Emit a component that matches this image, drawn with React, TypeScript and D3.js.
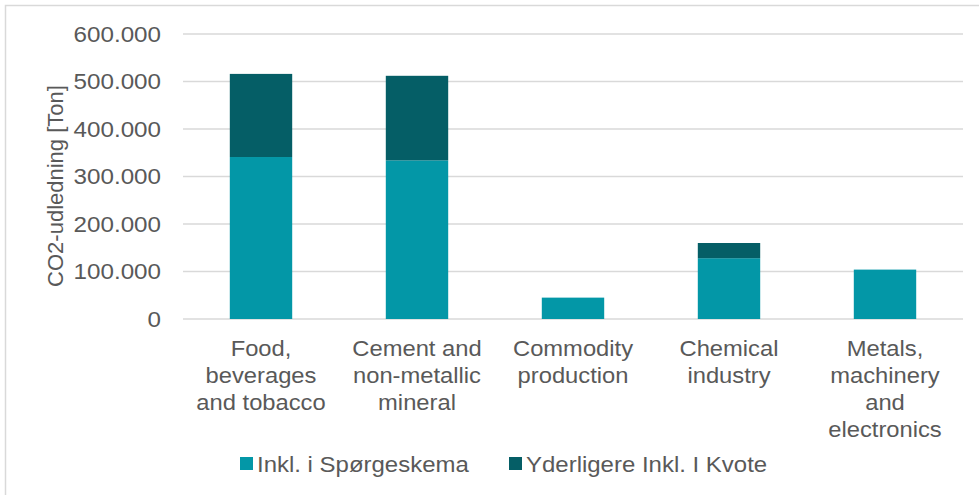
import React, { useRef, useEffect } from "react";
import * as d3 from "d3";

const categories = [
  ["Food,", "beverages", "and tobacco"],
  ["Cement and", "non-metallic", "mineral"],
  ["Commodity", "production"],
  ["Chemical", "industry"],
  ["Metals,", "machinery", "and", "electronics"],
];
const spoergeskema = [341000, 334000, 45000, 128000, 104000];
const kvote = [175000, 178000, 0, 32000, 0];
const seriesNames = ["Inkl. i Spørgeskema", "Yderligere Inkl. I Kvote"];
const colors = ["#0397A7", "#055E66"];
const yTicks = [0, 100000, 200000, 300000, 400000, 500000, 600000];

const W = 979;
const H = 495;
const FONT = "'Liberation Sans', Arial, sans-serif";
const SX = 1.08; // text in the original is a bit wide

const App = () => {
  const ref = useRef<SVGSVGElement>(null);

  useEffect(() => {
    document.body.style.margin = "0";
    const svg = d3.select(ref.current);
    svg.selectAll("*").remove();

    // frame
    svg.append("rect")
      .attr("x", 5.5).attr("y", 5.5)
      .attr("width", 990).attr("height", 500)
      .attr("fill", "white")
      .attr("stroke", "#d9d9d9").attr("stroke-width", 1.5);

    const x0 = 183, x1 = 963, yTop = 34, yBot = 319;
    const x = d3.scaleBand<number>()
      .domain(d3.range(categories.length))
      .range([x0, x1])
      .paddingInner(0.6).paddingOuter(0.3);
    const y = d3.scaleLinear().domain([0, 600000]).range([yBot, yTop]);

    const fmt = (v: number) => v === 0 ? "0" : d3.format(",")(v).replace(/,/g, ".");

    // grid
    svg.append("g").selectAll("line").data(yTicks).join("line")
      .attr("x1", x0).attr("x2", x1)
      .attr("y1", d => y(d)).attr("y2", d => y(d))
      .attr("stroke", "#d9d9d9").attr("stroke-width", 1.5);

    // y labels
    svg.append("g").selectAll("text").data(yTicks).join("text")
      .attr("transform", d => `translate(161, ${y(d)}) scale(1.1, 1)`)
      .attr("dy", "0.35em")
      .attr("text-anchor", "end")
      .attr("font-family", FONT).attr("font-size", 22)
      .attr("fill", "#595959")
      .text(d => fmt(d));

    // axis title
    svg.append("text")
      .attr("transform", `translate(55, 186) rotate(-90)`)
      .attr("text-anchor", "middle")
      .attr("dy", "0.35em")
      .attr("font-family", FONT).attr("font-size", 22)
      .attr("fill", "#595959")
      .text("CO2-udledning [Ton]");

    // stacked bars
    const stacked = d3.stack<number>()
      .keys([0, 1] as any)
      .value((i, k) => (k as any) === 0 ? spoergeskema[i] : kvote[i])(d3.range(categories.length));

    stacked.forEach((layer, li) => {
      svg.append("g").selectAll("rect").data(layer).join("rect")
        .attr("x", (d, i) => x(i)!)
        .attr("width", x.bandwidth())
        .attr("y", d => y(d[1]))
        .attr("height", d => y(d[0]) - y(d[1]))
        .attr("fill", colors[li]);
    });

    // category labels
    const cat = svg.append("g").selectAll("text").data(categories).join("text")
      .attr("transform", (d, i) => `translate(${x(i)! + x.bandwidth() / 2}, 0) scale(${SX}, 1)`)
      .attr("text-anchor", "middle")
      .attr("font-family", FONT).attr("font-size", 22)
      .attr("fill", "#595959");
    cat.each(function (lines) {
      d3.select(this).selectAll("tspan").data(lines).join("tspan")
        .attr("x", 0)
        .attr("y", (d, j) => 356 + j * 27)
        .text(d => d);
    });

    // legend
    const legX = [240, 509];
    seriesNames.forEach((name, i) => {
      svg.append("rect")
        .attr("x", legX[i]).attr("y", 457)
        .attr("width", 13).attr("height", 13)
        .attr("fill", colors[i]);
      svg.append("text")
        .attr("transform", `translate(${legX[i] + 17}, 464) scale(1.09, 1)`)
        .attr("dy", "0.35em")
        .attr("font-family", FONT).attr("font-size", 22)
        .attr("fill", "#595959")
        .text(name);
    });
  }, []);

  return (
    <svg ref={ref} width={W} height={H} style={{ display: "block" }}></svg>
  );
};

export default App;
